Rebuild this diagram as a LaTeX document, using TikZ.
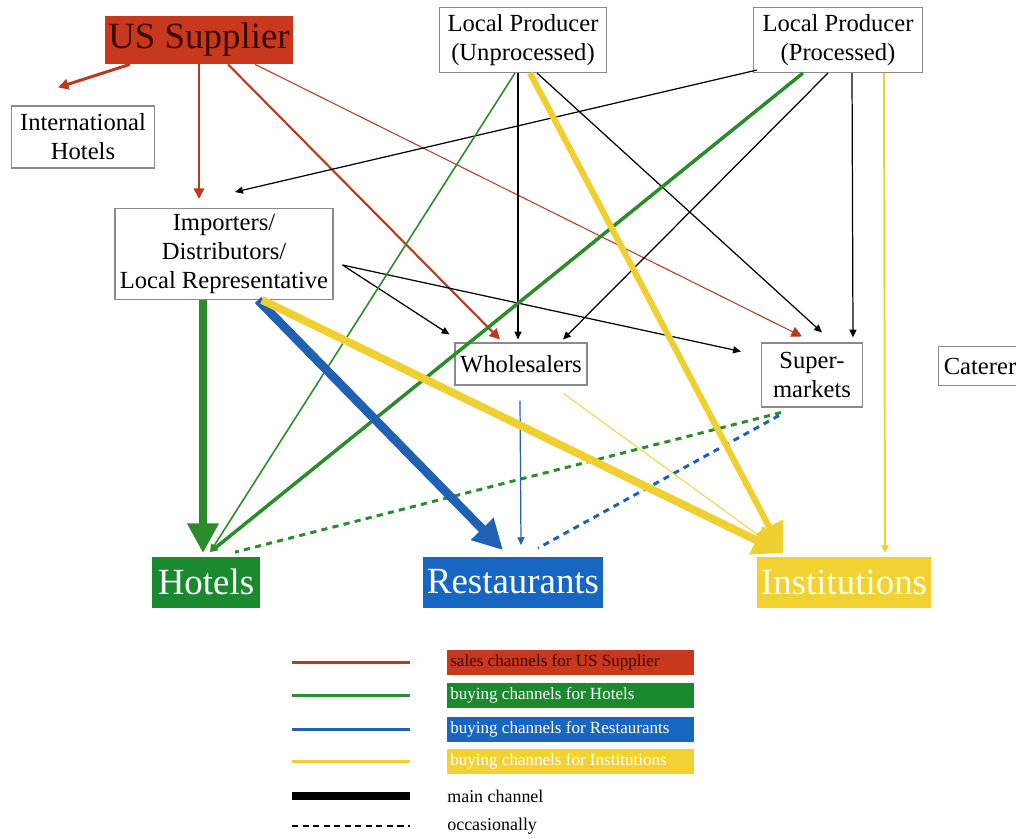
\documentclass[tikz,border=0pt]{standalone}
\usepackage{fontspec}
\setmainfont{Liberation Serif}
\usepackage{tikz}
\usetikzlibrary{arrows.meta,calc}
\usepackage{xcolor}
\definecolor{SupplierRed}{HTML}{C8381D}
\definecolor{SupplierText}{HTML}{3A0A02}
\definecolor{HotelGreen}{HTML}{1B8A2E}
\definecolor{RestBlue}{HTML}{1766C2}
\definecolor{InstYellow}{HTML}{F1D232}
\definecolor{RedLine}{HTML}{B83A1F}
\definecolor{GreenLine}{HTML}{2A8C2A}
\definecolor{BlueLine}{HTML}{1F62B4}
\definecolor{YellowLine}{HTML}{F0D030}
\definecolor{BoxGray}{HTML}{8A8A8A}
\tikzset{
  place node/.style={draw=BoxGray,fill=white,line width=0.6pt,align=center,
    inner sep=2pt,font=\fontsize{14}{16.5}\selectfont},
  buyer node/.style={inner sep=2pt,minimum height=1.02cm,font=\fontsize{21}{24}\selectfont},
  legend node/.style={anchor=west,inner xsep=0.06cm,inner ysep=0pt,minimum height=0.5cm,
    text width=4.82cm,align=flush left,font=\fontsize{9.7}{11}\selectfont},
  small tip/.style={-{Triangle[length=4.5pt,width=4pt]}},
  mid tip/.style={-{Triangle[length=6pt,width=6pt]}},
  big tip/.style={-{Triangle[length=17pt,width=17pt]}},
  occasional/.style={line width=1.7pt,dash pattern=on 3.5pt off 3pt}
}
\begin{document}
\begin{tikzpicture}[x=0.02cm,y=-0.02cm]
  \useasboundingbox (0,0) rectangle (1016,838);
  % sources and intermediaries
  \node[buyer node,fill=SupplierRed,text=SupplierText,minimum width=3.74cm,minimum height=0.96cm] (us) at (199,40) {US Supplier};
  \node[place node,minimum width=2.86cm,minimum height=1.24cm] (ih) at (83,137) {International\\Hotels};
  \node[place node,minimum width=3.34cm,minimum height=1.3cm] (lpu) at (523,40) {Local Producer\\(Unprocessed)};
  \node[place node,minimum width=3.38cm,minimum height=1.3cm] (lpp) at (838,40) {Local Producer\\(Processed)};
  \node[place node,minimum width=4.36cm,minimum height=1.82cm] (imp) at (224,254) {Importers/\\Distributors/\\Local Representative};
  \node[place node,minimum width=2.64cm,minimum height=0.84cm] (wh) at (521,364) {Wholesalers};
  \node[place node,minimum width=2.02cm,minimum height=1.28cm] (sm) at (812,375) {Super-\\markets};
  \node[place node,anchor=west,inner xsep=3pt,minimum height=0.78cm] (cat) at (938,366) {Caterer};
  % buyers
  \node[buyer node,fill=HotelGreen,text=white,minimum width=2.16cm] (ho) at (206,582) {Hotels};
  \node[buyer node,fill=RestBlue,text=white,minimum width=3.58cm] (re) at (513,582) {Restaurants};
  \node[buyer node,fill=InstYellow,text=white!92!yellow,minimum width=3.48cm] (in) at (844,582) {Institutions};
  \coordinate (ihtip) at ($(ih.north)+(-25,-18)$);
  \coordinate (impfan) at ($(imp.east)+(9,11)$);
  \coordinate (intip) at ($(in.north)+(-61,-3)$);
  % sales channels for US Supplier
  \draw[RedLine,line width=1.7pt,mid tip] ($(us.south)+(-69,0)$) -- (ihtip);
  \draw[RedLine,line width=1.1pt,mid tip] (us.south) -- ($(imp.north)+(-25,-9)$);
  \draw[RedLine,line width=1.2pt,mid tip] ($(us.south)+(29,0)$) -- ($(wh.north)+(-21,-3)$);
  \draw[RedLine,line width=0.6pt,mid tip] ($(us.south)+(56,0)$) -- ($(sm.north)+(-10,-6)$);
  % other flows
  \draw[line width=0.7pt,small tip] ($(lpp.south west)+(4,-3)$) -- ($(imp.north)+(11,-16)$);
  \draw[line width=0.7pt,small tip] (impfan) -- ($(wh.north west)+(-5,-8)$);
  \draw[line width=0.7pt,small tip] (impfan) -- ($(sm.north west)+(-20,9)$);
  \draw[line width=0.7pt,small tip] ($(lpu.south)+(-5,0)$) -- ($(wh.north)+(-3,-3)$);
  \draw[line width=0.7pt,small tip] ($(lpu.south)+(14,0)$) -- ($(sm.north)+(10,-10)$);
  \draw[line width=0.7pt,small tip] ($(lpp.south)+(-10,0)$) -- ($(wh.north)+(42,-3)$);
  \draw[line width=0.7pt,small tip] ($(lpp.south)+(14,0)$) -- ($(sm.north)+(41,-5)$);
  % buying channels for Hotels
  \draw[GreenLine,line width=4.5pt,big tip] ($(imp.south)+(-21,0)$) -- ($(ho.north)+(-3,-3)$);
  \draw[GreenLine,line width=0.9pt,small tip] ($(lpu.south)+(-8,0)$) -- ($(ho.north)+(4,-4)$);
  \draw[GreenLine,line width=2pt,small tip] ($(lpp.south)+(-35,0)$) -- ($(ho.north)+(4,-4)$);
  \draw[GreenLine,occasional] ($(sm.south west)+(20,5)$) -- ($(ho.north)+(29,-4)$);
  % buying channels for Restaurants
  \draw[BlueLine,line width=5pt,big tip] ($(imp.south)+(34,0)$) -- ($(re.north)+(-10,-6)$);
  \draw[BlueLine,line width=0.7pt,small tip] ($(wh.south)+(-1,15)$) -- ($(re.north)+(8,-11)$);
  \draw[BlueLine,occasional] ($(sm.south west)+(18,8)$) -- ($(re.north)+(25,-8)$);
  % buying channels for Institutions
  \draw[YellowLine,line width=4.5pt,big tip] ($(imp.south)+(38,0)$) -- (intip);
  \draw[YellowLine,line width=3.5pt,big tip] ($(lpu.south)+(7,0)$) -- (intip);
  \draw[YellowLine,line width=0.5pt] ($(wh.south east)+(-24,8)$) -- (intip);
  \draw[YellowLine,line width=1.1pt,small tip] ($(lpp.south)+(46,0)$) -- ($(in.north)+(41,-3)$);
  % legend
  \foreach \y/\col/\txtcol/\name/\lbl in {662.5/SupplierRed/SupplierText/lgus/sales channels for US Supplier,
      695.5/HotelGreen/white/lgho/buying channels for Hotels,
      729.5/RestBlue/white/lgre/buying channels for Restaurants,
      761.5/InstYellow/white/lgin/buying channels for Institutions}{
    \node[legend node,fill=\col,text=\txtcol] (\name) at (447,\y) {\lbl};
  }
  \draw[RedLine,line width=1.7pt] ($(lgus.west)+(-155,0)$) -- ++(118,0);
  \draw[GreenLine,line width=1.7pt] ($(lgho.west)+(-155,0)$) -- ++(118,0);
  \draw[BlueLine,line width=1.7pt] ($(lgre.west)+(-155,0)$) -- ++(118,0);
  \draw[YellowLine,line width=1.7pt] ($(lgin.west)+(-155,0)$) -- ++(118,0);
  \node[anchor=west,inner sep=0pt,font=\fontsize{10.2}{12}\selectfont] (lgmain) at (447,796) {main channel};
  \node[anchor=west,inner sep=0pt,font=\fontsize{10.2}{12}\selectfont] (lgocc) at (447,826) {occasionally};
  \draw[line width=4.5pt] ($(lgmain.west)+(-155,0)$) -- ++(118,0);
  \draw[line width=0.8pt,dash pattern=on 3.5pt off 2.5pt] ($(lgocc.west)+(-155,0)$) -- ++(118,0);
\end{tikzpicture}
\end{document}
